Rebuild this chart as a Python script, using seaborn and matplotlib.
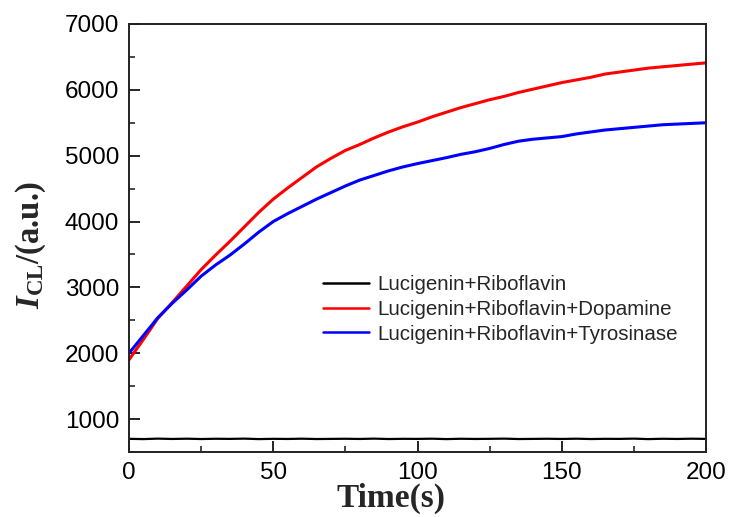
import numpy as np
import pandas as pd
import matplotlib
matplotlib.use("Agg")
import matplotlib.pyplot as plt
import seaborn as sns
from matplotlib.ticker import MultipleLocator

# ---- data ----
time_s = [0, 5, 10, 15, 20, 25, 30, 35, 40, 45, 50, 55, 60, 65, 70, 75, 80, 85, 90, 95,
          100, 105, 110, 115, 120, 125, 130, 135, 140, 145, 150, 155, 160, 165, 170, 175,
          180, 185, 190, 195, 200]
lr = [700, 696, 703, 698, 702, 697, 701, 699, 703, 696, 700, 698, 702, 697, 699, 701, 698,
      703, 697, 700, 699, 702, 696, 701, 698, 700, 703, 697, 699, 701, 698, 702, 697, 700,
      699, 703, 696, 701, 698, 702, 699]
lr_dopamine = [1900, 2210, 2530, 2770, 3020, 3270, 3490, 3700, 3920, 4140, 4340, 4510, 4670,
               4830, 4960, 5080, 5170, 5270, 5360, 5440, 5510, 5590, 5660, 5730, 5790, 5850,
               5900, 5960, 6010, 6060, 6110, 6150, 6190, 6240, 6270, 6300, 6330, 6350, 6370,
               6390, 6410]
lr_tyrosinase = [2000, 2270, 2540, 2760, 2960, 3170, 3340, 3490, 3660, 3840, 4000, 4120, 4230,
                 4340, 4440, 4540, 4630, 4700, 4770, 4830, 4880, 4925, 4970, 5020, 5060, 5110,
                 5170, 5220, 5250, 5270, 5290, 5330, 5360, 5390, 5410, 5430, 5450, 5470, 5480,
                 5490, 5500]
series_names = ["Lucigenin+Riboflavin",
                "Lucigenin+Riboflavin+Dopamine",
                "Lucigenin+Riboflavin+Tyrosinase"]
colors = ["#000000", "#ff0000", "#0000ff"]

df = pd.concat([
    pd.DataFrame({"Time": time_s, "I": lr, "Series": series_names[0]}),
    pd.DataFrame({"Time": time_s, "I": lr_dopamine, "Series": series_names[1]}),
    pd.DataFrame({"Time": time_s, "I": lr_tyrosinase, "Series": series_names[2]}),
])

sns.set_theme(style="ticks")
plt.rcParams["font.family"] = ["Liberation Sans", "DejaVu Sans"]
plt.rcParams["mathtext.fontset"] = "custom"
plt.rcParams["mathtext.rm"] = "Liberation Serif:bold"
plt.rcParams["mathtext.bf"] = "Liberation Serif:bold"
plt.rcParams["mathtext.it"] = "Liberation Serif:italic:bold"

fig = plt.figure(figsize=(7.31, 5.17), dpi=100)
ax = fig.add_axes([129 / 731, 1 - 452 / 517, (706 - 129) / 731, (452 - 24) / 517])

sns.lineplot(data=df, x="Time", y="I", hue="Series", palette=colors,
             hue_order=series_names, linewidth=2.2, ax=ax, legend=True)
ax.get_lines()[0].set_linewidth(1.6)

ax.set_xlim(0, 200)
ax.set_ylim(500, 7000)
ax.xaxis.set_major_locator(MultipleLocator(50))
ax.xaxis.set_minor_locator(MultipleLocator(25))
ax.yaxis.set_minor_locator(MultipleLocator(500))
ax.set_yticks([1000, 2000, 3000, 4000, 5000, 6000, 7000])
ax.tick_params(which="major", direction="in", length=8, width=1.2, labelsize=17.5,
               colors="black", pad=7)
ax.tick_params(which="minor", direction="in", length=4.5, width=1.2)
for s in ax.spines.values():
    s.set_linewidth(1.4)
    s.set_color("#222222")

ax.set_xlabel("Time(s)", family="Liberation Serif", fontweight="bold", fontsize=24)
ax.xaxis.set_label_coords((391 - 129) / 577, -(483 - 452) / 428)
ax.set_ylabel(r"$\mathit{I}_{\mathrm{CL}}$/(a.u.)", family="Liberation Serif",
              fontweight="bold", fontsize=23.5)
ax.yaxis.set_label_coords(-(129 - 48) / 577, 1 - (245 - 24) / 428)

leg = ax.legend(loc="upper left", bbox_to_anchor=((323 - 129) / 577, 1 - (275 - 24) / 428),
                frameon=False, fontsize=14.8, handlelength=2.25, handletextpad=0.4,
                labelspacing=0.28, borderaxespad=0, borderpad=0)
for line in leg.get_lines():
    line.set_linewidth(1.8)

fig.savefig("out.png", dpi=100)
